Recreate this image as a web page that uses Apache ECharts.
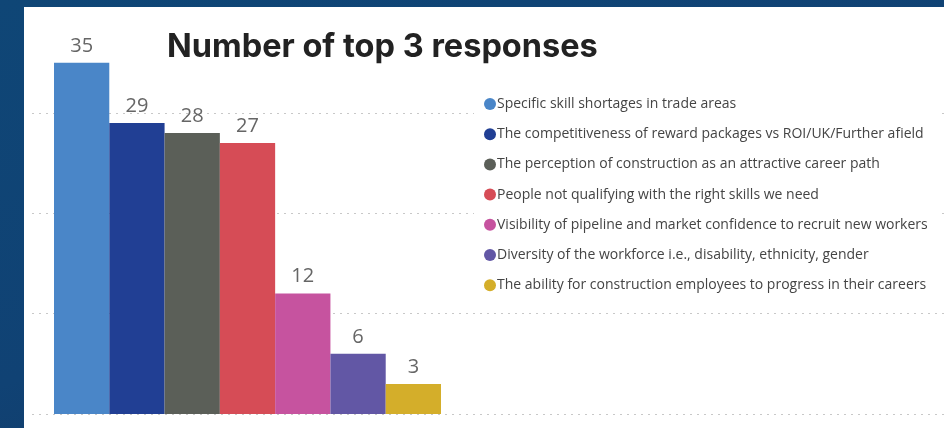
<!DOCTYPE html>
<html><head><meta charset="utf-8">
<script src="https://cdn.jsdelivr.net/npm/echarts@6/dist/echarts.min.js"></script>
<style>
html,body{margin:0;padding:0;width:944px;height:428px;overflow:hidden;
background:linear-gradient(160deg,#0f4676 0%,#104274 50%,#17345a 100%);}
#panel{position:absolute;left:24px;top:7px;width:920px;height:421px;background:#fff;}
#chart{position:absolute;left:0;top:0;width:944px;height:428px;}
</style></head>
<body><div id="panel"></div><div id="chart"></div>
<script>
const categories = [
  "Specific skill shortages in trade areas",
  "The competitiveness of reward packages vs ROI/UK/Further afield",
  "The perception of construction as an attractive career path",
  "People not qualifying with the right skills we need",
  "Visibility of pipeline and market confidence to recruit new workers",
  "Diversity of the workforce i.e., disability, ethnicity, gender",
  "The ability for construction employees to progress in their careers"
];
const values = [35, 29, 28, 27, 12, 6, 3];
const colors = ["#4a86c8", "#213f94", "#5b5f58", "#d64c56", "#c6539f", "#6257a5", "#d4ae2a"];
const titleText = "Number of top 3 responses";
const yTicks = [0, 10, 20, 30, 40];

const chart = echarts.init(document.getElementById('chart'));
const series = categories.map((name, i) => ({
  name: name,
  type: 'bar',
  xAxisIndex: 0, yAxisIndex: 0,
  data: [values[i]],
  barGap: '0%',
  barCategoryGap: '0%',
  itemStyle: {color: colors[i]},
  label: {show: true, position: 'top', distance: 7, color: '#666', fontSize: 20,
          fontFamily: 'Open Sans'}
}));
chart.setOption({
  backgroundColor: 'transparent',
  animation: false,
  title: {text: titleText, left: 162, top: 26,
    textStyle: {fontFamily: 'Inter', fontWeight: 'bold', fontSize: 32.5, color: '#222'}},
  legend: {
    orient: 'vertical', left: 474, top: 92, itemGap: 16.2,
    backgroundColor: '#fff', padding: [5, 10, 5, 10],
    icon: 'circle', itemWidth: 12, itemHeight: 12,
    textStyle: {fontFamily: 'Open Sans', fontSize: 14, color: '#444', padding: [0, 0, 0, -4]},
    data: categories
  },
  grid: [
    {left: 54, right: 503, top: 12.7, bottom: 14},
    {left: 32, right: 0, top: 12.7, bottom: 14}
  ],
  xAxis: [
    {type: 'category', gridIndex: 0, data: [''], show: false},
    {type: 'value', gridIndex: 1, min: 0, max: 1, show: false}
  ],
  yAxis: [
    {type: 'value', gridIndex: 0, min: yTicks[0], max: yTicks[yTicks.length-1], interval: 10, show: false},
    {type: 'value', gridIndex: 1, min: yTicks[0], max: yTicks[yTicks.length-1], interval: 10,
     axisLine: {show: false}, axisTick: {show: false}, axisLabel: {show: false},
     splitLine: {show: true, lineStyle: {type: [2, 5], width: 1,
       color: ['#c8c8c8', '#c8c8c8', '#c8c8c8', '#c8c8c8', 'rgba(0,0,0,0)']}}}
  ],
  series: series
});
</script></body></html>
